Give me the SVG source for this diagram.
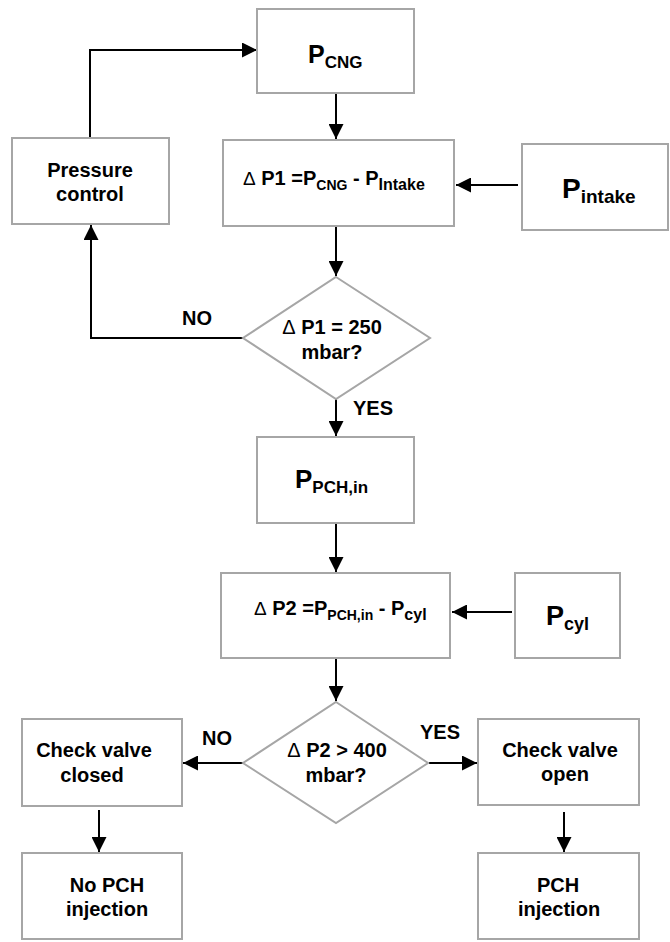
<svg xmlns="http://www.w3.org/2000/svg" width="670" height="942" viewBox="0 0 670 942">
<style>
.box{fill:#ffffff;stroke:#a6a6a6;stroke-width:2}
.t{font-family:"Liberation Sans",Arial,sans-serif;font-weight:bold;fill:#000000}
.c{text-anchor:middle}
.d{font-weight:normal}
.ln{fill:none;stroke:#000000;stroke-width:2}
</style>
<defs>
<marker id="ah" markerUnits="userSpaceOnUse" markerWidth="15" markerHeight="15" refX="15" refY="7.5" orient="auto">
<path d="M0,0 L15,7.5 L0,15 Z" fill="#000000"/>
</marker>
</defs>
<rect width="670" height="942" fill="#ffffff"/>
<g id="connectors">
<polyline class="ln" points="90,138 90,50 257,50" marker-end="url(#ah)"/>
<line class="ln" x1="336" y1="93" x2="336" y2="139" marker-end="url(#ah)"/>
<line class="ln" x1="518" y1="185" x2="456" y2="185" marker-end="url(#ah)"/>
<line class="ln" x1="336" y1="226" x2="336" y2="276" marker-end="url(#ah)"/>
<polyline class="ln" points="243,338 91,338 91,225" marker-end="url(#ah)"/>
<line class="ln" x1="336" y1="399" x2="336" y2="436" marker-end="url(#ah)"/>
<line class="ln" x1="336" y1="523" x2="336" y2="572" marker-end="url(#ah)"/>
<line class="ln" x1="512" y1="612" x2="452" y2="612" marker-end="url(#ah)"/>
<line class="ln" x1="336" y1="658" x2="336" y2="701" marker-end="url(#ah)"/>
<line class="ln" x1="243" y1="763" x2="183" y2="763" marker-end="url(#ah)"/>
<line class="ln" x1="429" y1="763" x2="477" y2="763" marker-end="url(#ah)"/>
<line class="ln" x1="99" y1="810" x2="99" y2="852" marker-end="url(#ah)"/>
<line class="ln" x1="564" y1="812" x2="564" y2="852" marker-end="url(#ah)"/>
<text class="t c" x="197" y="325" font-size="20">NO</text>
<text class="t c" x="373" y="415" font-size="20">YES</text>
<text class="t c" x="217" y="745" font-size="20">NO</text>
<text class="t c" x="440" y="739" font-size="20">YES</text>
</g>
<g id="p_cng">
<rect class="box" x="257" y="9" width="157" height="84"/>
<text class="t" x="308" y="63" font-size="25">P<tspan dy="5" font-size="17">CNG</tspan></text>
</g>
<g id="pressure_control">
<rect class="box" x="12" y="138" width="157" height="86"/>
<text class="t c" x="90" y="177" font-size="20">Pressure</text>
<text class="t c" x="90" y="201" font-size="20">control</text>
</g>
<g id="dp1">
<rect class="box" x="223" y="140" width="231" height="86"/>
<text class="t" x="243" y="185" font-size="20"><tspan class="d" font-size="19">Δ</tspan> P1 =P<tspan dy="5" font-size="14">CNG</tspan><tspan dy="-5"> - P</tspan><tspan dy="5" font-size="16">Intake</tspan></text>
</g>
<g id="p_intake">
<rect class="box" x="522" y="144" width="146" height="86"/>
<text class="t" x="562" y="198" font-size="28">P<tspan dy="5" font-size="19">intake</tspan></text>
</g>
<g id="decision1">
<polygon class="box" points="336,277 430,338 336,399 243,338"/>
<text class="t c" x="332" y="334" font-size="20"><tspan class="d">Δ</tspan> P1 = 250</text>
<text class="t c" x="332" y="359" font-size="20">mbar?</text>
</g>
<g id="p_pch_in">
<rect class="box" x="257" y="437" width="157" height="86"/>
<text class="t" x="295" y="488" font-size="26">P<tspan dy="5" font-size="17">PCH,in</tspan></text>
</g>
<g id="dp2">
<rect class="box" x="221" y="573" width="229" height="85"/>
<text class="t" x="254" y="615" font-size="20"><tspan class="d" font-size="19">Δ</tspan> P2 =P<tspan dy="5" font-size="14">PCH,in</tspan><tspan dy="-5"> - P</tspan><tspan dy="5" font-size="16">cyl</tspan></text>
</g>
<g id="p_cyl">
<rect class="box" x="515" y="573" width="105" height="85"/>
<text class="t" x="546" y="625" font-size="27">P<tspan dy="5" font-size="18">cyl</tspan></text>
</g>
<g id="decision2">
<polygon class="box" points="336,702 428,763 336,823 243,763"/>
<text class="t c" x="337" y="757" font-size="20"><tspan class="d">Δ</tspan> P2 &gt; 400</text>
<text class="t c" x="336" y="782" font-size="20">mbar?</text>
</g>
<g id="check_closed">
<rect class="box" x="22" y="719" width="160" height="87"/>
<text class="t c" x="94" y="757" font-size="20">Check valve</text>
<text class="t c" x="92" y="782" font-size="20">closed</text>
</g>
<g id="no_pch">
<rect class="box" x="22" y="853" width="160" height="86"/>
<text class="t c" x="107" y="892" font-size="20">No PCH</text>
<text class="t c" x="107" y="916" font-size="20">injection</text>
</g>
<g id="check_open">
<rect class="box" x="478" y="719" width="161" height="86"/>
<text class="t c" x="560" y="757" font-size="20">Check valve</text>
<text class="t c" x="565" y="781" font-size="20">open</text>
</g>
<g id="pch_inj">
<rect class="box" x="478" y="853" width="161" height="86"/>
<text class="t c" x="558" y="892" font-size="20">PCH</text>
<text class="t c" x="559" y="916" font-size="20">injection</text>
</g>
</svg>
